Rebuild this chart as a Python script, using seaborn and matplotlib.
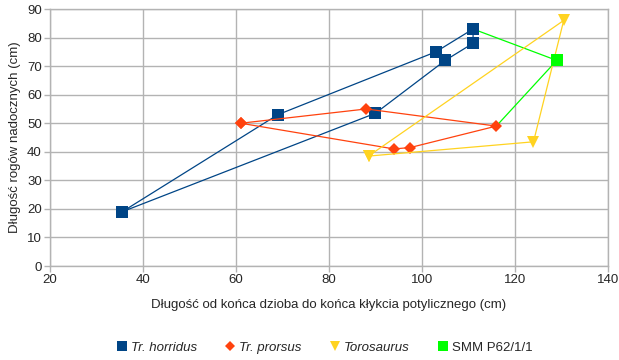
import seaborn as sns
import matplotlib.pyplot as plt
from matplotlib.lines import Line2D

# outline order of each group (closed polygon)
horridus_x = [35.5, 69, 103, 111, 111, 105, 90]
horridus_y = [19, 53, 75, 83, 78, 72, 53.5]
prorsus_x = [61, 88, 116, 97.5, 94]
prorsus_y = [50, 55, 49, 41.5, 41]
toro_x = [88.5, 124, 130.5]
toro_y = [38.5, 43.5, 86]
smm_x = [129]
smm_y = [72]
# green link lines: SMM to its nearest neighbours
link_x = [111, 129, 116]
link_y = [83, 72, 49]

c_hor = '#004586'
c_pro = '#ff420e'
c_tor = '#ffd320'
c_smm = '#00ff00'

sns.set_theme(style='white')
plt.rcParams['font.family'] = ['Liberation Sans', 'DejaVu Sans']

fig = plt.figure(figsize=(6.19, 3.6), dpi=100)
ax = fig.add_axes([0.081, 0.261, 0.901, 0.714])

def closed(v):
    return list(v) + [v[0]]

sns.lineplot(x=closed(horridus_x), y=closed(horridus_y), sort=False, estimator=None,
             color=c_hor, lw=0.9, marker='s', markersize=8, markeredgewidth=0, ax=ax, zorder=3)
sns.lineplot(x=closed(prorsus_x), y=closed(prorsus_y), sort=False, estimator=None,
             color=c_pro, lw=0.9, marker='D', markersize=6.5, markeredgewidth=0, ax=ax, zorder=3)
sns.lineplot(x=closed(toro_x), y=closed(toro_y), sort=False, estimator=None,
             color=c_tor, lw=0.9, marker='v', markersize=9, markeredgewidth=0, ax=ax, zorder=3)
sns.lineplot(x=link_x, y=link_y, sort=False, estimator=None, color=c_smm, lw=0.9, ax=ax, zorder=2)
sns.scatterplot(x=smm_x, y=smm_y, color=c_smm, marker='s', s=64, linewidth=0, ax=ax, zorder=4)

ax.set_xlim(20, 140)
ax.set_ylim(0, 90)
ax.set_xticks(range(20, 141, 20))
ax.set_yticks(range(0, 91, 10))
ax.grid(True, color='#b3b3b3', lw=1)
ax.set_axisbelow(True)
for s in ax.spines.values():
    s.set_color('#b3b3b3')
    s.set_linewidth(1)
ax.tick_params(axis='both', which='both', length=4, width=1, color='#b3b3b3',
               labelsize=9.5, pad=2, direction='out', bottom=True, left=True)
ax.set_xlabel('Długość od końca dzioba do końca kłykcia potylicznego (cm)', fontsize=9.5, labelpad=9)
ax.set_ylabel('Długość rogów nadocznych (cm)', fontsize=9.5, labelpad=4)

handles = [
    Line2D([], [], ls='', marker='s', color=c_hor, markersize=6.5, markeredgewidth=0),
    Line2D([], [], ls='', marker='D', color=c_pro, markersize=5, markeredgewidth=0),
    Line2D([], [], ls='', marker='v', color=c_tor, markersize=7, markeredgewidth=0),
    Line2D([], [], ls='', marker='s', color=c_smm, markersize=6.5, markeredgewidth=0),
]
labels = ['Tr. horridus', 'Tr. prorsus', 'Torosaurus', 'SMM P62/1/1']
leg = fig.legend(handles, labels, loc='center', bbox_to_anchor=(0.523, 0.035), ncol=4,
                 frameon=False, fontsize=9.5, handletextpad=0.2, columnspacing=2.0,
                 handlelength=1.0)
for t in leg.get_texts()[:3]:
    t.set_fontstyle('italic')

fig.savefig('out.png', dpi=100)
